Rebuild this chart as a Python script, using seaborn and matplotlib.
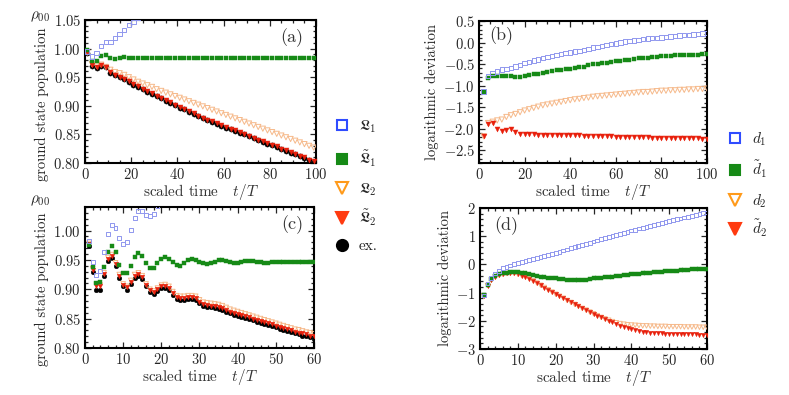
import numpy as np
import matplotlib
matplotlib.use('Agg')
import matplotlib.pyplot as plt
import seaborn as sns
from matplotlib.lines import Line2D
from matplotlib.ticker import MultipleLocator

# ============================================
# DATA
# ============================================

# panel (a): ground state population, long run
t_a = np.arange(1, 100, 2)
ex_a = [0.993, 0.970, 0.966, 0.970, 0.967, 0.958, 0.953, 0.950, 0.946, 0.942,
        0.937, 0.933, 0.929, 0.925, 0.921, 0.917, 0.913, 0.909, 0.905, 0.901,
        0.897, 0.894, 0.890, 0.886, 0.882, 0.878, 0.875, 0.872, 0.869, 0.865,
        0.862, 0.859, 0.856, 0.853, 0.850, 0.847, 0.843, 0.840, 0.837, 0.834,
        0.831, 0.828, 0.824, 0.821, 0.818, 0.815, 0.812, 0.809, 0.805, 0.802]
L2t_a = [0.994, 0.971, 0.967, 0.971, 0.968, 0.959, 0.954, 0.951, 0.947, 0.943,
         0.938, 0.934, 0.930, 0.926, 0.922, 0.918, 0.914, 0.910, 0.906, 0.902,
         0.898, 0.895, 0.891, 0.887, 0.883, 0.879, 0.876, 0.873, 0.870, 0.866,
         0.863, 0.860, 0.857, 0.854, 0.851, 0.848, 0.844, 0.841, 0.838, 0.835,
         0.832, 0.829, 0.825, 0.822, 0.819, 0.816, 0.813, 0.810, 0.806, 0.803]
L2_a = [0.993, 0.973, 0.970, 0.972, 0.968, 0.963, 0.959, 0.957, 0.954, 0.950,
        0.946, 0.942, 0.939, 0.936, 0.933, 0.929, 0.926, 0.923, 0.920, 0.917,
        0.914, 0.911, 0.908, 0.905, 0.902, 0.899, 0.896, 0.893, 0.890, 0.887,
        0.884, 0.881, 0.878, 0.875, 0.872, 0.869, 0.866, 0.863, 0.860, 0.857,
        0.854, 0.851, 0.848, 0.845, 0.842, 0.839, 0.836, 0.833, 0.830, 0.827]
L1t_a = [0.997, 0.978, 0.978, 0.987, 0.989, 0.983, 0.982, 0.984, 0.985, 0.984,
         0.984, 0.984, 0.983, 0.984, 0.984, 0.984, 0.984, 0.984, 0.984, 0.984,
         0.984, 0.984, 0.984, 0.984, 0.984, 0.984, 0.984, 0.984, 0.984, 0.984,
         0.984, 0.984, 0.984, 0.984, 0.984, 0.984, 0.984, 0.984, 0.984, 0.984,
         0.984, 0.984, 0.984, 0.984, 0.984, 0.984, 0.984, 0.984, 0.984, 0.984]
L1_a = [0.995, 0.986, 0.992, 1.005, 1.011, 1.012, 1.018, 1.026, 1.033, 1.041,
        1.047, 1.053, 1.059]

# panel (b): logarithmic deviation, long run
t_b = np.arange(2, 101, 2)
d1_b = [-1.14, -0.78, -0.71, -0.67, -0.63, -0.61, -0.59, -0.56, -0.52, -0.48,
        -0.45, -0.42, -0.39, -0.36, -0.34, -0.31, -0.29, -0.27, -0.25, -0.23,
        -0.21, -0.19, -0.17, -0.15, -0.12, -0.10, -0.08, -0.06, -0.04, -0.02,
        0.00, 0.02, 0.03, 0.05, 0.06, 0.08, 0.09, 0.10, 0.11, 0.12,
        0.13, 0.14, 0.15, 0.16, 0.17, 0.18, 0.19, 0.20, 0.21, 0.22]
d1t_b = [-1.16, -0.82, -0.77, -0.77, -0.77, -0.78, -0.78, -0.79, -0.79, -0.78,
         -0.76, -0.74, -0.72, -0.70, -0.68, -0.67, -0.65, -0.64, -0.62, -0.61,
         -0.59, -0.58, -0.56, -0.53, -0.51, -0.50, -0.48, -0.47, -0.45, -0.43,
         -0.42, -0.41, -0.40, -0.38, -0.37, -0.36, -0.35, -0.34, -0.33, -0.32,
         -0.32, -0.31, -0.30, -0.30, -0.29, -0.29, -0.28, -0.28, -0.27, -0.27]
d2_b = [-2.18, -1.87, -1.84, -1.81, -1.79, -1.73, -1.69, -1.66, -1.62, -1.58,
        -1.55, -1.52, -1.49, -1.46, -1.44, -1.42, -1.40, -1.38, -1.36, -1.34,
        -1.32, -1.31, -1.29, -1.28, -1.26, -1.25, -1.24, -1.23, -1.22, -1.21,
        -1.20, -1.19, -1.18, -1.17, -1.16, -1.15, -1.15, -1.14, -1.13, -1.12,
        -1.12, -1.11, -1.11, -1.10, -1.10, -1.09, -1.09, -1.08, -1.08, -1.07]
d2t_b = [-2.18, -1.90, -1.88, -2.02, -2.06, -2.03, -2.01, -2.08, -2.12, -2.12,
         -2.12, -2.13, -2.14, -2.14, -2.14, -2.15, -2.15, -2.15, -2.15, -2.16,
         -2.16, -2.16, -2.17, -2.17, -2.17, -2.18, -2.18, -2.18, -2.18, -2.19,
         -2.19, -2.19, -2.19, -2.20, -2.20, -2.20, -2.20, -2.21, -2.21, -2.21,
         -2.21, -2.22, -2.22, -2.22, -2.22, -2.23, -2.23, -2.23, -2.24, -2.24]

# panel (c): ground state population, short run
t_c = np.arange(1, 61)
ex_c = [0.974, 0.930, 0.899, 0.899, 0.923, 0.948, 0.954, 0.940, 0.920, 0.905,
        0.899, 0.909, 0.920, 0.923, 0.918, 0.905, 0.895, 0.892, 0.897, 0.902,
        0.902, 0.899, 0.890, 0.884, 0.882, 0.882, 0.884, 0.884, 0.882, 0.876,
        0.872, 0.870, 0.869, 0.868, 0.867, 0.865, 0.862, 0.859, 0.857, 0.855,
        0.853, 0.851, 0.849, 0.847, 0.845, 0.843, 0.841, 0.839, 0.837, 0.835,
        0.833, 0.831, 0.829, 0.827, 0.825, 0.823, 0.821, 0.820, 0.818, 0.816]
L2t_c = [0.977, 0.933, 0.905, 0.905, 0.926, 0.952, 0.957, 0.943, 0.923, 0.907,
         0.903, 0.913, 0.923, 0.926, 0.921, 0.907, 0.898, 0.895, 0.900, 0.905,
         0.905, 0.902, 0.893, 0.886, 0.885, 0.885, 0.886, 0.886, 0.885, 0.879,
         0.875, 0.873, 0.872, 0.871, 0.870, 0.868, 0.865, 0.862, 0.860, 0.858,
         0.856, 0.854, 0.852, 0.850, 0.848, 0.846, 0.844, 0.842, 0.840, 0.838,
         0.836, 0.834, 0.832, 0.830, 0.828, 0.826, 0.825, 0.823, 0.821, 0.820]
L2_c = [0.978, 0.935, 0.907, 0.907, 0.928, 0.954, 0.959, 0.945, 0.925, 0.909,
        0.905, 0.915, 0.925, 0.928, 0.923, 0.909, 0.900, 0.897, 0.902, 0.907,
        0.908, 0.905, 0.896, 0.889, 0.888, 0.888, 0.889, 0.889, 0.888, 0.882,
        0.878, 0.877, 0.876, 0.875, 0.874, 0.872, 0.869, 0.866, 0.864, 0.862,
        0.860, 0.858, 0.856, 0.854, 0.852, 0.850, 0.848, 0.846, 0.844, 0.842,
        0.840, 0.838, 0.836, 0.834, 0.832, 0.831, 0.829, 0.827, 0.826, 0.824]
L1t_c = [0.976, 0.938, 0.910, 0.912, 0.938, 0.964, 0.974, 0.963, 0.942, 0.927,
         0.927, 0.940, 0.955, 0.961, 0.956, 0.944, 0.937, 0.937, 0.944, 0.952,
         0.955, 0.952, 0.946, 0.942, 0.940, 0.944, 0.949, 0.952, 0.950, 0.947,
         0.945, 0.943, 0.944, 0.947, 0.949, 0.949, 0.948, 0.946, 0.945, 0.945,
         0.946, 0.948, 0.948, 0.948, 0.947, 0.946, 0.945, 0.945, 0.946, 0.947,
         0.947, 0.947, 0.946, 0.946, 0.946, 0.947, 0.947, 0.947, 0.946, 0.946]
L1_c = [0.982, 0.946, 0.924, 0.931, 0.963, 0.994, 1.010, 1.004, 0.987, 0.977,
        0.981, 1.001, 1.021, 1.034, 1.034, 1.027, 1.024, 1.028, 1.042, 1.055]

# panel (d): logarithmic deviation, short run
t_d = np.arange(1, 61)
d1_d = [-1.10, -0.68, -0.47, -0.32, -0.23, -0.14, -0.08, -0.04, 0.01, 0.05,
        0.08, 0.12, 0.15, 0.19, 0.22, 0.25, 0.29, 0.33, 0.37, 0.41,
        0.45, 0.49, 0.53, 0.57, 0.61, 0.65, 0.69, 0.73, 0.77, 0.81,
        0.85, 0.89, 0.93, 0.97, 1.01, 1.05, 1.09, 1.12, 1.16, 1.20,
        1.23, 1.27, 1.30, 1.34, 1.37, 1.41, 1.44, 1.47, 1.50, 1.54,
        1.57, 1.60, 1.63, 1.66, 1.69, 1.72, 1.75, 1.78, 1.81, 1.84]
d1t_d = [-1.10, -0.74, -0.53, -0.40, -0.35, -0.31, -0.29, -0.27, -0.27, -0.28,
         -0.30, -0.32, -0.35, -0.38, -0.40, -0.43, -0.45, -0.47, -0.49, -0.50,
         -0.52, -0.53, -0.54, -0.55, -0.555, -0.555, -0.55, -0.54, -0.52, -0.50,
         -0.49, -0.47, -0.46, -0.44, -0.43, -0.41, -0.40, -0.38, -0.37, -0.35,
         -0.34, -0.33, -0.31, -0.30, -0.29, -0.28, -0.27, -0.26, -0.25, -0.24,
         -0.23, -0.22, -0.21, -0.20, -0.19, -0.18, -0.17, -0.16, -0.16, -0.15]
d2t_d = [-1.12, -0.75, -0.56, -0.44, -0.38, -0.35, -0.32, -0.32, -0.32, -0.35,
         -0.40, -0.45, -0.51, -0.58, -0.66, -0.74, -0.82, -0.90, -0.98, -1.06,
         -1.13, -1.20, -1.28, -1.35, -1.42, -1.49, -1.56, -1.62, -1.69, -1.75,
         -1.82, -1.88, -1.94, -2.00, -2.06, -2.12, -2.17, -2.22, -2.26, -2.30,
         -2.33, -2.36, -2.38, -2.40, -2.42, -2.43, -2.44, -2.45, -2.455, -2.46,
         -2.465, -2.47, -2.47, -2.475, -2.48, -2.48, -2.485, -2.49, -2.49, -2.49]
d2_d = [-1.12, -0.75, -0.56, -0.44, -0.38, -0.35, -0.32, -0.32, -0.32, -0.35,
        -0.40, -0.45, -0.51, -0.58, -0.66, -0.74, -0.82, -0.90, -0.98, -1.06,
        -1.13, -1.20, -1.28, -1.35, -1.42, -1.49, -1.56, -1.62, -1.69, -1.75,
        -1.82, -1.88, -1.93, -1.98, -2.03, -2.07, -2.10, -2.12, -2.14, -2.15,
        -2.16, -2.17, -2.18, -2.18, -2.19, -2.19, -2.20, -2.20, -2.20, -2.21,
        -2.21, -2.21, -2.21, -2.22, -2.22, -2.22, -2.22, -2.23, -2.23, -2.23]

# ============================================
# STYLE
# ============================================

sns.set_style('ticks')
plt.rcParams['font.family'] = ['cmr10', 'DejaVu Serif']
plt.rcParams['mathtext.fontset'] = 'cm'
plt.rcParams['axes.formatter.use_mathtext'] = True
plt.rcParams['axes.unicode_minus'] = True

BLUE = '#2f4cff'
BLUE_PT = '#9097ee'
GREEN = '#168a16'
ORANGE = '#ff9a1a'
ORANGE_PT = '#f6b98a'
RED = '#ff3a10'
RED_PT = '#e8200c'

open_sq = dict(marker='s', s=10, facecolor='none', edgecolor=BLUE_PT, linewidth=0.7)
fill_sq = dict(marker='s', s=9, color=GREEN, edgecolor=GREEN, linewidth=0.3)
open_tri = dict(marker='v', s=14, facecolor='none', edgecolor=ORANGE_PT, linewidth=0.7)
fill_tri = dict(marker='v', s=13, color=RED_PT, edgecolor=RED_PT, linewidth=0.3)
dot = dict(marker='o', s=14, color='black', edgecolor='black', linewidth=0.3)


def draw(ax, series, scale=1.0):
    for x, y, style in series:
        st = dict(style)
        st['s'] = style['s'] * scale
        sns.scatterplot(x=x[:len(y)], y=y, ax=ax, legend=False, zorder=3, **st)


def frame(ax, xlim, ylim, xmaj, xmin, ymaj, ymin, ylabel, label_y, tag, tag_xy):
    ax.set_xlim(*xlim)
    ax.set_ylim(*ylim)
    ax.xaxis.set_major_locator(MultipleLocator(xmaj))
    ax.xaxis.set_minor_locator(MultipleLocator(xmin))
    ax.yaxis.set_major_locator(MultipleLocator(ymaj))
    ax.yaxis.set_minor_locator(MultipleLocator(ymin))
    ax.tick_params(which='both', direction='in', top=True, right=True,
                   labelsize=10.5, width=0.9, pad=3)
    ax.tick_params(which='major', length=4)
    ax.tick_params(which='minor', length=2.2)
    for sp in ax.spines.values():
        sp.set_linewidth(1.5)
        sp.set_color('black')
    ax.set_xlabel('scaled time   $t/T$', fontsize=11, labelpad=0, color='#333333')
    ax.set_ylabel(ylabel, fontsize=10.5, labelpad=3)
    ax.yaxis.label.set_y(label_y)
    ax.text(*tag_xy, tag, transform=ax.transAxes, fontsize=13,
            ha='center', va='center', color='#333333')


fig = plt.figure(figsize=(7.89, 3.95), dpi=100)
ax_a = fig.add_axes([0.1077, 0.5873, 0.2928, 0.3621])
ax_b = fig.add_axes([0.6071, 0.5873, 0.2890, 0.3595])
ax_c = fig.add_axes([0.1077, 0.1190, 0.2902, 0.3569])
ax_d = fig.add_axes([0.6084, 0.1165, 0.2877, 0.3569])

draw(ax_a, [(t_a, ex_a, dot), (t_a, L2_a, open_tri), (t_a, L2t_a, fill_tri),
            (t_a, L1t_a, fill_sq), (t_a, L1_a, open_sq)])
draw(ax_b, [(t_b, d2_b, open_tri), (t_b, d2t_b, fill_tri),
            (t_b, d1t_b, fill_sq), (t_b, d1_b, open_sq)])
draw(ax_c, [(t_c, ex_c, dot), (t_c, L2_c, open_tri), (t_c, L2t_c, fill_tri),
            (t_c, L1t_c, fill_sq), (t_c, L1_c, open_sq)], scale=0.8)
draw(ax_d, [(t_d, d2_d, open_tri), (t_d, d2t_d, fill_tri),
            (t_d, d1t_d, fill_sq), (t_d, d1_d, open_sq)], scale=0.75)

frame(ax_a, (0, 100), (0.80, 1.05), 20, 5, 0.05, 0.01,
      'ground state population', 0.41, '(a)', (0.896, 0.88))
frame(ax_b, (0, 100), (-2.8, 0.5), 20, 5, 0.5, 0.1,
      'logarithmic deviation', 0.5, '(b)', (0.099, 0.894))
frame(ax_c, (0, 60), (0.80, 1.04), 10, 2, 0.05, 0.01,
      'ground state population', 0.415, '(c)', (0.906, 0.872))
frame(ax_d, (0, 60), (-3, 2), 10, 2, 1, 0.2,
      'logarithmic deviation', 0.5, '(d)', (0.117, 0.872))

# rho_00 sits left of the top tick label, above the y label
fig.text(40 / 789, 1 - 17 / 395, r'$\rho_{00}$', ha='center', va='center', fontsize=11)
fig.text(40 / 789, 1 - 201 / 395, r'$\rho_{00}$', ha='center', va='center', fontsize=11)


# legends: one entry each so the rows land where the reference has them
def handle(marker, fc, ec, ms):
    return Line2D([], [], marker=marker, ls='', markersize=ms,
                  markerfacecolor=fc, markeredgecolor=ec, markeredgewidth=1.5)


h1 = [handle('s', 'none', BLUE, 7.5), handle('s', GREEN, GREEN, 7.5),
      handle('v', 'none', ORANGE, 8.5), handle('v', RED, RED, 8.5),
      handle('o', 'black', 'black', 8)]
l1 = [r'$\mathfrak{L}_1$', r'$\tilde{\mathfrak{L}}_1$', r'$\mathfrak{L}_2$',
      r'$\tilde{\mathfrak{L}}_2$', 'ex.']
y1 = [127, 159, 190, 218, 246]

l2 = [r'$d_1$', r'$\tilde{d}_1$', r'$d_2$', r'$\tilde{d}_2$']
y2 = [139, 169, 201, 228]


def entry(h, lab, x, y):
    fig.legend([h], [lab], loc='center left', bbox_to_anchor=(x / 789, 1 - y / 395),
               frameon=False, fontsize=11, handlelength=1.0, handletextpad=0.6,
               borderpad=0, borderaxespad=0)


for h, lab, y in zip(h1, l1, y1):
    entry(h, lab, 334.5, y)
for h, lab, y in zip(h1[:4], l2, y2):
    entry(h, lab, 727.5, y)

plt.savefig('out.png', dpi=100, facecolor='white')
plt.close()
